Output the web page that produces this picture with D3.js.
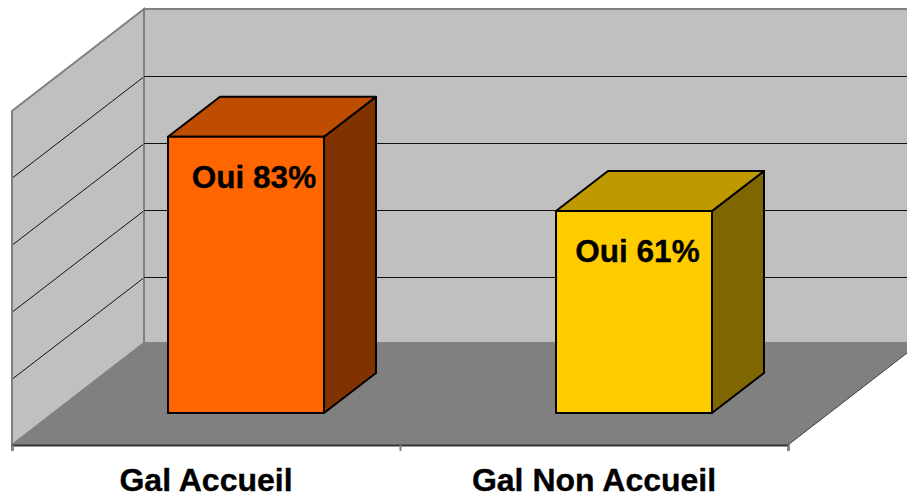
<!DOCTYPE html>
<html>
<head>
<meta charset="utf-8">
<script src="https://cdn.jsdelivr.net/npm/d3@7/dist/d3.min.js"></script>
<style>
html,body{margin:0;padding:0;background:#fff;overflow:hidden}
svg{display:block}
text{font-family:"Liberation Sans",Arial,sans-serif;font-weight:bold;fill:#000;stroke:#000;stroke-width:.35px}
</style>
</head>
<body>
<svg id="chart" width="907" height="498"></svg>
<script>
const categories = ["Gal Accueil", "Gal Non Accueil"];
const barValues = [82.7, 60.5];
const labels = ["Oui 83%", "Oui 61%"];
const faceColors = ["#FF6600", "#FFCC00"];
const topColors = ["#BF4D00", "#BF9900"];
const sideColors = ["#803300", "#806600"];
const gridTicks = [0, 20, 40, 60, 80, 100];

const svg = d3.select("#chart");
const wallDx = 132, wallDy = -102, frontY = 445, frontL = 12, frontR = 788;
const barDx = 52, barDy = -40;

const x = d3.scaleBand().domain(categories).range([frontL, frontR])
  .paddingInner(0.598).paddingOuter(0.299);
const edges = d3.scaleLinear().domain([0, categories.length]).range([frontL, frontR]);
const y = d3.scaleLinear().domain([0, 100]).range([frontY + wallDy, frontY + wallDy - 334]);

const poly = pts => "M" + pts.map(p => p.join(",")).join("L") + "Z";
const yBack0 = y(0), yTop = y(100), backL = frontL + wallDx, backR = frontR + wallDx;

// Back wall, side wall, floor
svg.append("path").attr("d", poly([[backL, yBack0], [backL, yTop], [backR, yTop], [backR, yBack0]]))
  .attr("fill", "#C0C0C0").attr("stroke", "#808080").attr("stroke-width", 2);
svg.append("path").attr("d", poly([[frontL, frontY], [frontL, yTop - wallDy], [backL, yTop], [backL, yBack0]]))
  .attr("fill", "#C0C0C0").attr("stroke", "#808080").attr("stroke-width", 2);
svg.append("path").attr("d", poly([[frontL, frontY], [backL, yBack0], [backR, yBack0], [frontR, frontY]]))
  .attr("fill", "#808080");
svg.append("line").attr("x1", frontR).attr("y1", frontY).attr("x2", backR).attr("y2", yBack0)
  .attr("stroke", "#404040").attr("stroke-width", 1);

// Gridlines
const inner = gridTicks.filter(t => t > 0 && t < 100);
const gridY = d => Math.floor(y(d) + 1) + .5;
svg.append("g").selectAll("line").data(inner).join("line")
  .attr("x1", backL).attr("x2", backR)
  .attr("y1", gridY).attr("y2", gridY)
  .attr("stroke", "#111").attr("stroke-width", 1);
svg.append("g").selectAll("line").data(inner).join("line")
  .attr("x1", frontL + 1).attr("x2", backL - 1)
  .attr("y1", d => gridY(d) - wallDy - 1).attr("y2", d => gridY(d) + 1)
  .attr("stroke", "#111").attr("stroke-width", 1);

// Bottom axis: ticks at band edges
const tickAxis = d3.axisBottom(edges).tickValues(d3.range(categories.length + 1))
  .tickSize(6).tickFormat("");
const gTicks = svg.append("g").attr("transform", `translate(0,${frontY})`).call(tickAxis);
gTicks.select(".domain").attr("stroke", "#333").attr("stroke-width", 2);
gTicks.selectAll(".tick line").attr("stroke", "#808080").attr("stroke-width", 2);

const labelAxis = d3.axisBottom(x).tickSize(0).tickPadding(0);
const gLabels = svg.append("g").attr("transform", `translate(0,${frontY})`).call(labelAxis);
gLabels.select(".domain").remove();
gLabels.selectAll("text").attr("y", 46).attr("dy", 0)
  .attr("font-family", null).style("font-size", "32px");

// Bars
const offX = (wallDx - barDx) / 2, offY = -32;
const h0 = y(0) - wallDy + offY;
const labelShift = [8, 3.5];
const bars = svg.append("g").selectAll("g").data(categories).join("g");
bars.each(function (c, i) {
  const g = d3.select(this);
  const l = x(c) + offX, r = l + x.bandwidth();
  const t = h0 - (y(0) - y(barValues[i]));
  const face = [[l, h0], [l, t], [r, t], [r, h0]];
  const top = [[l, t], [l + barDx, t + barDy], [r + barDx, t + barDy], [r, t]];
  const side = [[r, t], [r + barDx, t + barDy], [r + barDx, h0 + barDy], [r, h0]];
  [[side, sideColors[i]], [top, topColors[i]], [face, faceColors[i]]].forEach(([p, f]) =>
    g.append("path").attr("d", poly(p)).attr("fill", f)
      .attr("stroke", "#000").attr("stroke-width", 2).attr("stroke-linejoin", "round"));
  g.append("text").attr("x", (l + r) / 2 + labelShift[i]).attr("y", t + 51)
    .attr("text-anchor", "middle").style("font-size", "31.5px").text(labels[i]);
});
</script>
</body>
</html>
